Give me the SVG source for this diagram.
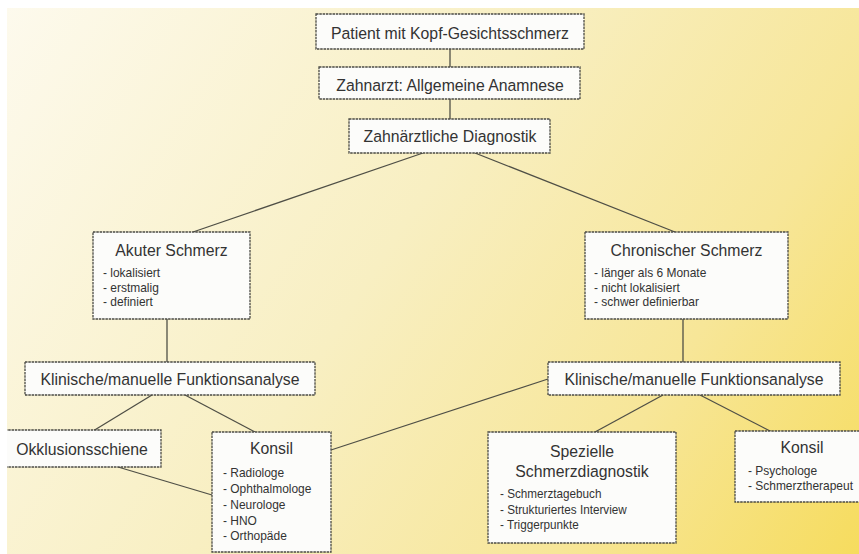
<svg xmlns="http://www.w3.org/2000/svg" width="859" height="554" viewBox="0 0 859 554">
<defs>
<linearGradient id="bg" gradientUnits="userSpaceOnUse" x1="0" y1="0" x2="860" y2="554">
<stop offset="0" stop-color="#fdfaee"/>
<stop offset="0.45" stop-color="#f8efc2"/>
<stop offset="0.75" stop-color="#f7e698"/>
<stop offset="1" stop-color="#f6dc5e"/>
</linearGradient>
<style>
.box{fill:#fcfcfa;stroke:#4a4a44;stroke-width:1.3;stroke-dasharray:2.5 0.8}
.con{stroke:#4f4f46;stroke-width:1.3;fill:none}
text{font-family:"Liberation Sans",Arial,sans-serif;fill:#333}
.t{font-size:17px;text-anchor:middle}
.l{font-size:13px}
</style>
</defs>
<rect x="0" y="0" width="859" height="554" fill="#ffffff"/>
<rect x="7" y="8" width="852" height="546" fill="url(#bg)"/>
<g id="connectors">
<line class="con" x1="450" y1="49" x2="450" y2="67"/>
<line class="con" x1="450" y1="99" x2="450" y2="119"/>
<line class="con" x1="423" y1="153" x2="193" y2="232"/>
<line class="con" x1="475" y1="153" x2="675" y2="232"/>
<line class="con" x1="167" y1="319" x2="167" y2="362"/>
<line class="con" x1="683" y1="319" x2="683" y2="362"/>
<line class="con" x1="152" y1="395" x2="93" y2="431"/>
<line class="con" x1="185" y1="395" x2="255" y2="432"/>
<line class="con" x1="118" y1="467" x2="212" y2="495"/>
<line class="con" x1="331" y1="450" x2="548" y2="379"/>
<line class="con" x1="663" y1="395" x2="595" y2="432"/>
<line class="con" x1="700" y1="395" x2="772" y2="432"/>
</g>
<g id="patient">
<rect class="box" x="316" y="14" width="268" height="35"/>
<text class="t" transform="translate(450 39) scale(0.93 1)">Patient mit Kopf-Gesichtsschmerz</text>
</g>
<g id="anamnese">
<rect class="box" x="319" y="67" width="261" height="32"/>
<text class="t" transform="translate(450 90.5) scale(0.93 1)">Zahnarzt: Allgemeine Anamnese</text>
</g>
<g id="diagnostik">
<rect class="box" x="349" y="119" width="201" height="34"/>
<text class="t" transform="translate(450 142) scale(0.93 1)">Zahnärztliche Diagnostik</text>
</g>
<g id="akut">
<rect class="box" x="93" y="232" width="157" height="87"/>
<text class="t" transform="translate(171.5 256) scale(0.93 1)">Akuter Schmerz</text>
<text class="l" transform="translate(103 277) scale(0.92 1)">- lokalisiert</text>
<text class="l" transform="translate(103 291.5) scale(0.92 1)">- erstmalig</text>
<text class="l" transform="translate(103 306) scale(0.92 1)">- definiert</text>
</g>
<g id="chronisch">
<rect class="box" x="585" y="232" width="203" height="87"/>
<text class="t" transform="translate(686.5 256) scale(0.93 1)">Chronischer Schmerz</text>
<text class="l" transform="translate(594 277) scale(0.92 1)">- länger als 6 Monate</text>
<text class="l" transform="translate(594 291.5) scale(0.92 1)">- nicht lokalisiert</text>
<text class="l" transform="translate(594 306) scale(0.92 1)">- schwer definierbar</text>
</g>
<g id="klinisch-links">
<rect class="box" x="25" y="362" width="290" height="33"/>
<text class="t" transform="translate(170 384.5) scale(0.93 1)">Klinische/manuelle Funktionsanalyse</text>
</g>
<g id="klinisch-rechts">
<rect class="box" x="548" y="362" width="292" height="33"/>
<text class="t" transform="translate(694 384.5) scale(0.93 1)">Klinische/manuelle Funktionsanalyse</text>
</g>
<g id="okklusion">
<rect class="box" x="-5" y="430" width="166" height="37"/>
<text class="t" transform="translate(82 455) scale(0.93 1)">Okklusionsschiene</text>
</g>
<g id="konsil-links">
<rect class="box" x="212" y="432" width="119" height="120"/>
<text class="t" transform="translate(271.5 454) scale(0.93 1)">Konsil</text>
<text class="l" transform="translate(223 477) scale(0.92 1)">- Radiologe</text>
<text class="l" transform="translate(223 493) scale(0.92 1)">- Ophthalmologe</text>
<text class="l" transform="translate(223 509) scale(0.92 1)">- Neurologe</text>
<text class="l" transform="translate(223 524.5) scale(0.92 1)">- HNO</text>
<text class="l" transform="translate(223 540) scale(0.92 1)">- Orthopäde</text>
</g>
<g id="spezielle">
<rect class="box" x="488" y="432" width="188" height="111"/>
<text class="t" transform="translate(582 457) scale(0.93 1)">Spezielle</text>
<text class="t" transform="translate(582 477) scale(0.93 1)">Schmerzdiagnostik</text>
<text class="l" transform="translate(500 498) scale(0.9 1)">- Schmerztagebuch</text>
<text class="l" transform="translate(500 513.5) scale(0.9 1)">- Strukturiertes Interview</text>
<text class="l" transform="translate(500 528.5) scale(0.9 1)">- Triggerpunkte</text>
</g>
<g id="konsil-rechts">
<rect class="box" x="735" y="431" width="135" height="71"/>
<text class="t" transform="translate(802 453) scale(0.93 1)">Konsil</text>
<text class="l" transform="translate(748 475) scale(0.92 1)">- Psychologe</text>
<text class="l" transform="translate(748 490) scale(0.92 1)">- Schmerztherapeut</text>
</g>
<rect x="0" y="0" width="7" height="554" fill="#ffffff"/>
</svg>
